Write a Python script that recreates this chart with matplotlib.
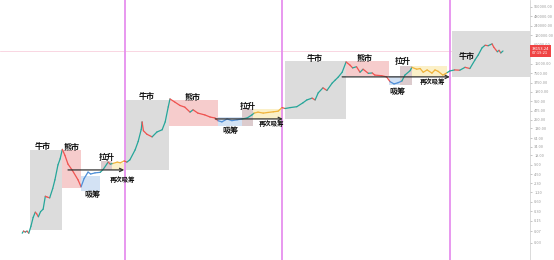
import numpy as np
import matplotlib
matplotlib.use('Agg')
import matplotlib.pyplot as plt
from matplotlib.patches import Rectangle

plt.rcParams['font.family'] = ['Noto Sans CJK SC', 'DejaVu Sans']

# price path (decimal year, price)
years = [2010.55, 2010.58, 2010.62, 2010.66, 2010.70, 2010.75, 2010.80, 2010.85, 2010.88, 2010.92,
         2010.97, 2011.03, 2011.08, 2011.12, 2011.18, 2011.25, 2011.30, 2011.37, 2011.42, 2011.47,
         2011.53, 2011.60, 2011.70, 2011.83, 2011.90,
         2011.97, 2012.06, 2012.12, 2012.22, 2012.34,
         2012.41, 2012.52, 2012.57,
         2012.63, 2012.73, 2012.80, 2012.89,
         2012.95, 2013.02, 2013.14, 2013.21, 2013.28, 2013.30, 2013.33, 2013.41, 2013.53, 2013.64,
         2013.76, 2013.83, 2013.90, 2013.94,
         2014.05, 2014.17, 2014.28, 2014.40, 2014.47, 2014.58, 2014.74, 2014.86, 2014.97, 2015.04,
         2015.13, 2015.25, 2015.36, 2015.48, 2015.59,
         2015.71, 2015.82, 2015.87,
         2015.96, 2016.08, 2016.19, 2016.31, 2016.42, 2016.51,
         2016.58, 2016.70, 2016.85, 2016.99, 2017.08, 2017.20, 2017.27, 2017.34, 2017.45, 2017.54,
         2017.66, 2017.73, 2017.80, 2017.89, 2017.98,
         2018.07, 2018.13, 2018.22, 2018.30, 2018.37, 2018.49, 2018.58, 2018.64, 2018.80, 2018.91,
         2018.99, 2019.08, 2019.17, 2019.26,
         2019.33, 2019.45, 2019.49,
         2019.60, 2019.68, 2019.75, 2019.84, 2019.95, 2020.02, 2020.09, 2020.20, 2020.30,
         2020.36, 2020.47, 2020.59, 2020.71, 2020.82, 2020.94, 2021.01, 2021.10, 2021.17, 2021.24,
         2021.33, 2021.37, 2021.45, 2021.49, 2021.53, 2021.58]
prices = [0.06, 0.07, 0.065, 0.07, 0.06, 0.10, 0.19, 0.28, 0.25, 0.20,
          0.29, 0.35, 0.9, 0.85, 0.8, 1.6, 3.0, 9.0, 14.0, 28.0,
          18.0, 9.5, 6.0, 3.0, 1.8,
          3.3, 5.3, 4.6, 5.0, 5.2,
          6.5, 11.0, 9.5,
          10.0, 11.0, 10.5, 12.0,
          11.0, 13.0, 27.0, 50.0, 120.0, 210.0, 110.0, 85.0, 70.0, 100.0,
          118.0, 210.0, 630.0, 1130.0,
          900.0, 700.0, 620.0, 430.0, 510.0, 400.0, 350.0, 300.0, 280.0, 230.0,
          210.0, 260.0, 230.0, 245.0, 260.0,
          280.0, 350.0, 400.0,
          430.0, 400.0, 420.0, 440.0, 460.0, 600.0,
          560.0, 600.0, 640.0, 850.0, 1050.0, 1200.0, 1050.0, 1760.0, 2550.0, 2100.0,
          3600.0, 4500.0, 5600.0, 8000.0, 17000.0,
          13500.0, 11000.0, 12000.0, 8000.0, 10000.0, 7400.0, 7600.0, 6500.0, 6200.0, 5700.0,
          4000.0, 3400.0, 3700.0, 4200.0,
          6500.0, 9000.0, 11500.0,
          10000.0, 10500.0, 8000.0, 9500.0, 7500.0, 9500.0, 8600.0, 6500.0, 7800.0,
          8800.0, 9500.0, 9300.0, 11500.0, 10500.0, 20000.0, 28000.0, 48000.0, 58000.0, 56000.0,
          64000.0, 50000.0, 36000.0, 40000.0, 33000.0, 38000.0]

halvings = [2012.91, 2016.52, 2020.36]

# shaded phases: kind, start year, end year, low price, high price
box_kind = ['bull', 'bear', 'acc', 'pump', 'reacc',
            'bull', 'bear', 'acc', 'pump', 'reacc',
            'bull', 'bear', 'acc', 'pump', 'reacc',
            'bull']
box_x0 = [2010.73, 2011.47, 2011.90, 2012.36, 2012.61,
          2012.91, 2013.92, 2015.04, 2015.59, 2015.85,
          2016.58, 2017.98, 2018.96, 2019.22, 2019.49,
          2020.41]
box_x1 = [2011.47, 2011.90, 2012.34, 2012.61, 2012.89,
          2013.92, 2015.04, 2015.62, 2015.85, 2016.53,
          2017.98, 2018.96, 2019.26, 2019.49, 2020.29,
          2022.20]
box_lo = [0.076, 1.65, 1.3, 6.2, 6.2,
          6.2, 156, 156, 156, 261,
          261, 6100, 3160, 3160, 5700,
          5700]
box_hi = [26.8, 26.8, 4.0, 12.0, 10.4,
          1053, 1053, 303, 544, 544,
          18400, 18400, 6100, 12750, 12750,
          166000]

# phase labels
label_text = ['牛市', '熊市', '吸筹', '拉升', '再次吸筹',
              '牛市', '熊市', '吸筹', '拉升', '再次吸筹',
              '牛市', '熊市', '吸筹', '拉升', '再次吸筹',
              '牛市']
label_x = [2011.03, 2011.69, 2012.15, 2012.50, 2012.86,
           2013.41, 2014.47, 2015.32, 2015.73, 2016.28,
           2017.27, 2018.41, 2019.15, 2019.29, 2019.97,
           2020.75]
label_y = [33.5, 31, 1.0, 16, 3.0,
           1310, 1220, 108, 630, 181,
           21300, 21300, 1890, 17100, 3950,
           24600]

# horizontal arrows (start year, end year, price level)
arrow_x0 = [2011.60, 2014.98, 2017.89]
arrow_x1 = [2012.89, 2016.53, 2020.36]
arrow_y = [6.2, 261, 5700]

tick_vals = [960000, 480000, 240000, 120000, 60000, 15000, 7500, 3750, 1900, 950, 475,
             250, 130, 64, 34, 18, 9, 4.5, 2.3, 1.2, 0.6, 0.3, 0.15, 0.07, 0.03]

box_colors = {'bull': '#dcdcdc', 'bear': '#f6cccc', 'acc': '#d3e2f4',
              'pump': '#dccbcd', 'reacc': '#fbf0c8'}

fig = plt.figure(figsize=(5.54, 2.6), dpi=100)
ax = fig.add_axes([0, 0, 530/554, 1])
ax.set_yscale('log')
ax.set_xlim(2010.04, 2022.2)
ax.set_ylim(0.0084, 1.6e6)

for k, x0, x1, lo, hi in zip(box_kind, box_x0, box_x1, box_lo, box_hi):
    ax.add_patch(Rectangle((x0, lo), x1 - x0, hi - lo, facecolor=box_colors[k],
                           edgecolor='none', zorder=1))

for h in halvings:
    ax.axvline(h, color='#e690ee', lw=1.3, zorder=2)

# colour each piece of the path by phase / direction
def phase_of(x):
    for k, x0, x1 in zip(box_kind, box_x0, box_x1):
        if x0 <= x < x1:
            return k
    return 'bull'

for i in range(len(years) - 1):
    k = phase_of(0.5 * (years[i] + years[i + 1]))
    if k == 'acc':
        c = '#4f8fd8'
    elif k == 'reacc':
        c = '#f0b43c'
    elif prices[i + 1] >= prices[i]:
        c = '#26a69a'
    else:
        c = '#ef5350'
    ax.plot(years[i:i + 2], prices[i:i + 2], color=c, lw=0.9, zorder=4,
            solid_capstyle='round')

for x0, x1, y in zip(arrow_x0, arrow_x1, arrow_y):
    ax.annotate('', xy=(x1, y), xytext=(x0, y),
                arrowprops=dict(arrowstyle='->', color='#333333', lw=0.9,
                                shrinkA=0, shrinkB=0, mutation_scale=6), zorder=5)

for t, x, y in zip(label_text, label_x, label_y):
    fs = 4.6 if len(t) > 2 else 5.8
    ax.text(x, y, t, fontsize=fs, fontweight='bold', ha='center', va='center',
            color='#111111', zorder=6)

# current price line
ax.axhline(prices[-1], color='#f7c6d6', lw=0.5, zorder=0)

ax.yaxis.tick_right()
ax.set_yticks(tick_vals)
ax.set_yticklabels(['%.2f' % v for v in tick_vals])
ax.yaxis.set_minor_locator(matplotlib.ticker.NullLocator())
ax.tick_params(axis='y', labelsize=2.8, colors='#999999', length=1.5, width=0.4, pad=1.5)
ax.set_xticks([])
for s in ['top', 'left', 'bottom']:
    ax.spines[s].set_visible(False)
ax.spines['right'].set_color('#cccccc')
ax.spines['right'].set_linewidth(0.5)

ax.text(1.004, ax.transAxes.inverted().transform(ax.transData.transform((2021.0, prices[-1])))[1],
        '38153.24\n07:19:21', transform=ax.transAxes, fontsize=3.0, color='white',
        ha='left', va='center', linespacing=1.1,
        bbox=dict(boxstyle='square,pad=0.4', facecolor='#ef4444', edgecolor='none'),
        zorder=7, clip_on=False)

fig.savefig('out.png', dpi=100)
